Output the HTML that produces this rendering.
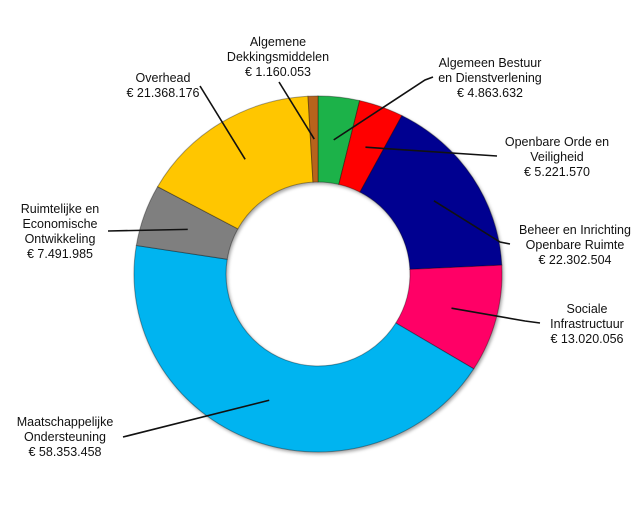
<!DOCTYPE html>
<html><head><meta charset="utf-8"><style>
body{margin:0;background:#fff;}
svg text{font-family:"Liberation Sans",sans-serif;font-size:12.5px;fill:#111;}
</style></head><body>
<svg id="chart" width="640" height="506" viewBox="0 0 640 506" xmlns="http://www.w3.org/2000/svg">
<defs>
<filter id="sh" x="-10%" y="-10%" width="120%" height="120%"><feDropShadow dx="1.5" dy="2" stdDeviation="1.5" flood-color="#000" flood-opacity="0.35"/></filter>
</defs>
<g id="slices" filter="url(#sh)"></g>
<g id="labels"></g>
</svg>
<script>
const categories=["Algemeen Bestuur en Dienstverlening","Openbare Orde en Veiligheid","Beheer en Inrichting Openbare Ruimte","Sociale Infrastructuur","Maatschappelijke Ondersteuning","Ruimtelijke en Economische Ontwikkeling","Overhead","Algemene Dekkingsmiddelen"];
const values=[4863632,5221570,22302504,13020056,58353458,7491985,21368176,1160053];
const valueLabels=["€ 4.863.632","€ 5.221.570","€ 22.302.504","€ 13.020.056","€ 58.353.458","€ 7.491.985","€ 21.368.176","€ 1.160.053"];
const colors=["#1fb24a","#ff0000","#000090","#ff0066","#00b4f0","#7f7f7f","#ffc600","#b8641e"];
const labelLines=[["Algemeen  Bestuur","en Dienstverlening"],["Openbare Orde en","Veiligheid"],["Beheer en Inrichting","Openbare Ruimte"],["Sociale","Infrastructuur"],["Maatschappelijke","Ondersteuning"],["Ruimtelijke en","Economische","Ontwikkeling"],["Overhead"],["Algemene","Dekkingsmiddelen"]];
const labelPos=[[490,63],[557,142],[575,230],[587,309],[65,422],[60,209],[163,78],[278,42]];
const leaderEnd=[[[433,77],[425,80]],[[497,156]],[[510,244],[500,242]],[[540,323],[525,321]],[[123,437]],[[108,231]],[[200,86]],[[279,82]]];

const cx=318,cy=274,rx=184,ry=178,irx=92,iry=92;
const NS="http://www.w3.org/2000/svg";
const total=values.reduce((a,b)=>a+b,0);
function pt(a,r1,r2){return [cx+r1*Math.sin(a),cy-r2*Math.cos(a)];}
const gS=document.getElementById('slices'),gL=document.getElementById('labels');
let acc=0;
values.forEach((v,i)=>{
  const a0=acc/total*2*Math.PI; acc+=v; const a1=acc/total*2*Math.PI;
  const lg=(a1-a0)>Math.PI?1:0;
  const p0=pt(a0,rx,ry),p1=pt(a1,rx,ry),q1=pt(a1,irx,iry),q0=pt(a0,irx,iry);
  const p=document.createElementNS(NS,'path');
  p.setAttribute('d',`M${p0[0]},${p0[1]} A${rx},${ry} 0 ${lg} 1 ${p1[0]},${p1[1]} L${q1[0]},${q1[1]} A${irx},${iry} 0 ${lg} 0 ${q0[0]},${q0[1]} Z`);
  p.setAttribute('fill',colors[i]);
  p.setAttribute('stroke','rgba(0,0,0,0.35)');
  p.setAttribute('stroke-width','1');
  
  
  gS.appendChild(p);
  // leader line
  const am=(a0+a1)/2;
  const inner=pt(am,(rx+irx)/2,(ry+iry)/2);
  const pts=leaderEnd[i].concat([inner]);
  const pl=document.createElementNS(NS,'polyline');
  pl.setAttribute('points',pts.map(q=>q.join(',')).join(' '));
  pl.setAttribute('fill','none');pl.setAttribute('stroke','#111');pl.setAttribute('stroke-width','1.6');
  
  
  gL.appendChild(pl);
  // label
  const t=document.createElementNS(NS,'text');
  t.setAttribute('text-anchor','middle');
  
  
  const lines=labelLines[i].concat([valueLabels[i]]);
  lines.forEach((s,k)=>{
    const ts=document.createElementNS(NS,'tspan');
    ts.setAttribute('x',labelPos[i][0]);
    ts.setAttribute('y',labelPos[i][1]+k*15+4);
    ts.textContent=s;
    t.appendChild(ts);
  });
  gL.appendChild(t);
});
</script>
</body></html>
